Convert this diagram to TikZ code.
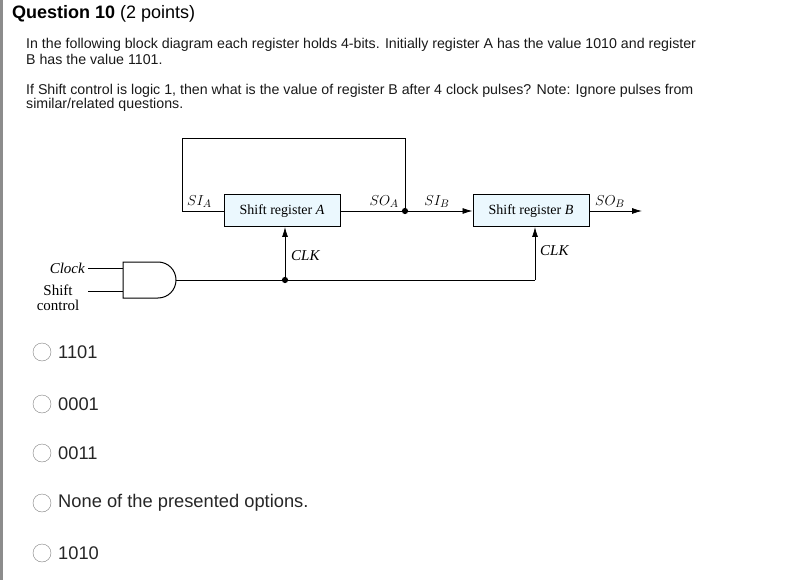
\documentclass[tikz,border=0pt]{standalone}
\usepackage{fontspec}
\setmainfont{Liberation Sans}
\newfontfamily\serifd{Liberation Serif}
\usetikzlibrary{arrows.meta}
\begin{document}
\begin{tikzpicture}[x=1pt,y=-1pt,
  txt/.style={anchor=west,inner sep=0,font=\fontsize{14.2}{16}\selectfont,text=black!90},
  opt/.style={anchor=west,inner sep=0,font=\fontsize{18.3}{20}\selectfont,text=black!85},
  radio/.style={draw=black!50,circle,minimum size=18pt,inner sep=0},
  reg/.style={draw,fill=cyan!8,line width=1pt,minimum width=116pt,minimum height=32pt,font=\serifd\fontsize{14}{16}\selectfont},
  lab/.style={font=\serifd\itshape\fontsize{15}{17}\selectfont,inner sep=1pt},
  wire/.style={line width=0.8pt},
  dot/.style={circle,fill,inner sep=2.2pt},
  arr/.style={wire,-{Latex[length=10pt,width=6pt]}}]
\useasboundingbox (0,0) rectangle (787,580);
\fill[black!45] (0,0) rectangle (3,580);
\node[anchor=west,inner sep=0,font=\fontsize{18}{20}\selectfont] (title) at (12,14) {\textbf{Question 10} (2 points)};
\node[txt] (t1) at (26,45) {In the following block diagram each register holds 4-bits. Initially register A has the value 1010 and register};
\node[txt] (t2) at (26,59) {B has the value 1101.};
\node[txt] (t3) at (26,91) {If Shift control is logic 1, then what is the value of register B after 4 clock pulses? Note: Ignore pulses from};
\node[txt] (t4) at (26,105) {similar/related questions.};
% diagram
\node[reg] (A) at (282,211) {Shift register \textit{A}};
\node[reg] (B) at (531,211) {Shift register \textit{B}};
\coordinate (j) at (405,211);
\coordinate (tl) at (182,138);
\coordinate (tr) at (405,138);
\node[dot] (jd) at (j) {};
\draw[wire] (A.east) -- (j);
\draw[arr] (j) -- (B.west);
\draw[wire] (j) -- (tr) -- (tl) |- (A.west);
\draw[arr] (B.east) -- (642,211);
\node[lab,anchor=south west] at (186,209) {$SI_A$};
\node[lab,anchor=south] at (384,209) {$SO_A$};
\node[lab,anchor=south] at (437,209) {$SI_B$};
\node[lab,anchor=south] at (610,209) {$SO_B$};
% AND gate
\draw[line width=1pt,fill=white] (123,262) -- (158,262) .. controls (168,262) and (176,270) .. (176,280) .. controls (176,290) and (168,298) .. (158,298) -- (123,298) -- cycle;
\coordinate (gout) at (176,280);
\coordinate (gin1) at (123,268);
\coordinate (gin2) at (123,291);
\draw[wire] (88,268) -- (gin1);
\draw[wire] (88,291) -- (gin2);
\node[lab,anchor=east] at (86,268) {Clock};
\node[font=\serifd\fontsize{15}{15}\selectfont,align=center,inner sep=0] at (58,298) {Shift\\control};
\node[dot] (j2) at (285,280) {};
\draw[wire] (gout) -- (535,280);
\draw[arr] (j2) -- (285,227);
\draw[arr] (535,280) -- (535,227);
\node[lab,anchor=west] at (290,256) {CLK};
\node[lab,anchor=west] at (539,251) {CLK};
% options
\foreach \y/\t [count=\i] in {352/1101,404/0001,453/0011,503/None of the presented options.,553/1010}{
  \node[radio] (r\i) at (42,\y) {};
  \node[opt] (o\i) at (58,\y) {\t};
}
\end{tikzpicture}
\end{document}
